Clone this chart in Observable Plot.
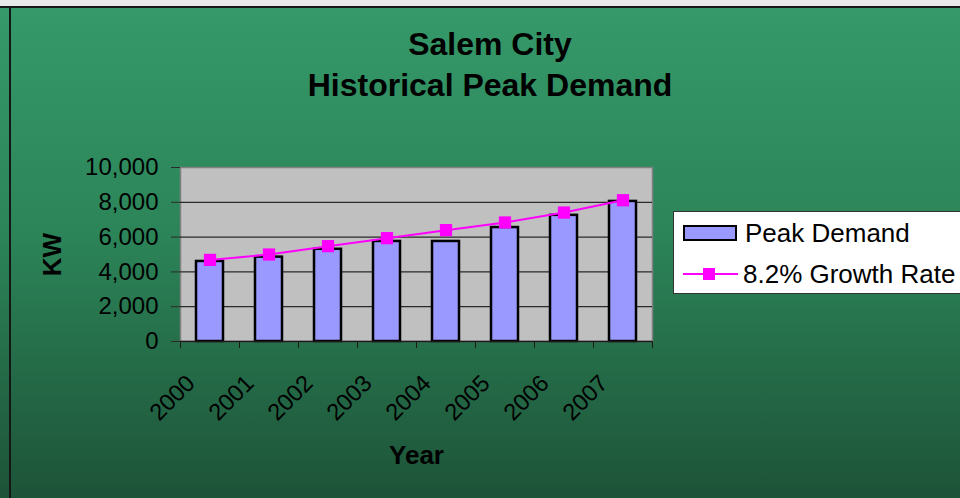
<!DOCTYPE html>
<html>
<head>
<meta charset="utf-8">
<script src="https://cdn.jsdelivr.net/npm/d3@7"></script>
<script src="https://cdn.jsdelivr.net/npm/@observablehq/plot@0.6"></script>
<style>
  html, body { margin: 0; padding: 0; width: 960px; height: 498px; overflow: hidden; background: #e8e8e8; }
  #bg { position: absolute; left: 0; top: 6px; width: 960px; height: 492px;
        background: linear-gradient(to bottom, #35996a 0%, #2c8559 45%, #1d5338 100%);
        border-top: 2px solid #161616; box-sizing: border-box; }
  #vline { position: absolute; left: 9px; top: 6px; width: 2px; height: 492px; background: #161616; }
  #title { position: absolute; left: 240px; width: 500px; top: 24px; text-align: center;
           font-family: "Liberation Sans", Arial, sans-serif; font-weight: bold; font-size: 32px; line-height: 41px; color: #000; }
  #chart { position: absolute; left: 0; top: 0; }
  #legend { position: absolute; left: 673px; top: 211px; width: 320px; height: 83px; background: #fff;
            border: 1px solid #333; box-sizing: border-box;
            font-family: "Liberation Sans", Arial, sans-serif; font-size: 26px; line-height: 30px; color: #000; }
  .item { position: absolute; left: 9px; display: flex; align-items: center; white-space: nowrap; height: 30px; }
  .sw { width: 50px; height: 12px; background: #9999ff; border: 2px solid #000; margin-right: 8px; }
  .ln { position: relative; width: 55px; height: 14px; margin-right: 5px; }
  .ln::before { content: ""; position: absolute; left: 0; right: 0; top: 6px; height: 2px; background: #ff00ff; }
  .ln::after { content: ""; position: absolute; left: 20px; top: 1px; width: 12px; height: 12px; background: #ff00ff; }
</style>
</head>
<body>
<div id="bg"></div>
<div id="vline"></div>
<div id="chart"></div>
<div id="title"></div>
<div id="legend"></div>
<script>
const titleLines = ["Salem City", "Historical Peak Demand"];
const years = ["2000", "2001", "2002", "2003", "2004", "2005", "2006", "2007"];
const peakDemand = [4600, 4850, 5300, 5750, 5750, 6550, 7250, 8050];
const growthRate = [4690, 5000, 5480, 5940, 6400, 6840, 7410, 8120];
const yTicks = [0, 2000, 4000, 6000, 8000, 10000];
const gridTicks = [2000, 4000, 6000, 8000];
const seriesNames = ["Peak Demand", "8.2% Growth Rate"];
const yLabel = "KW";
const xLabel = "Year";

const rows = years.map((y, i) => ({year: y, peak: peakDemand[i], growth: growthRate[i]}));

document.getElementById("title").innerHTML = titleLines.map(t => `<div>${t}</div>`).join("");

const fmt = d3.format(",");

const chart = Plot.plot({
  width: 960,
  height: 498,
  marginLeft: 180,
  marginRight: 308,
  marginTop: 167,
  marginBottom: 157,
  style: {background: "transparent", fontFamily: "Liberation Sans, Arial, sans-serif", fontSize: "24px", color: "#000", overflow: "visible"},
  x: {domain: years, paddingInner: 0.54, paddingOuter: 0.27, axis: null},
  y: {domain: [0, 10000], axis: null},
  marks: [
    Plot.frame({fill: "#c0c0c0", stroke: "#808080", strokeWidth: 1.5}),
    Plot.gridY(gridTicks, {stroke: "#2a2a2a", strokeOpacity: 1, strokeWidth: 1.2}),
    Plot.barY(rows, {x: "year", y: "peak", fill: "#9999ff", stroke: "#000", strokeWidth: 2.5}),
    Plot.ruleY([0], {stroke: "#1a1a1a", strokeWidth: 1.5}),
    Plot.axisY(yTicks, {tickSize: 9, tickPadding: 13, tickFormat: fmt, fontSize: 24, stroke: "#2a2a2a", label: null}),
    Plot.axisX(years, {tickSize: 7, tickFormat: () => "", dx: -29.5, stroke: "#1a1a1a", label: null}),
    Plot.axisX(years.slice(-1), {tickSize: 7, tickFormat: () => "", dx: 29.5, stroke: "#1a1a1a", label: null}),
    Plot.axisX(years, {tickSize: 0, tickPadding: 38, tickRotate: -45, dx: -19, fontSize: 23.5, label: null}),
    Plot.line(rows, {x: "year", y: "growth", stroke: "#ff00ff", strokeWidth: 2}),
    Plot.dot(rows, {x: "year", y: "growth", symbol: "square", r: 6.9, fill: "#ff00ff", stroke: "none"}),
    Plot.text([yLabel], {frameAnchor: "left", dx: -128, rotate: -90, textAnchor: "middle", lineAnchor: "middle", fontWeight: "bold", fontSize: 26}),
    Plot.text([xLabel], {frameAnchor: "bottom", dy: 114, textAnchor: "middle", lineAnchor: "middle", fontWeight: "bold", fontSize: 26})
  ]
});
document.getElementById("chart").appendChild(chart);

document.getElementById("legend").innerHTML =
  `<div class="item" style="top:6px"><span class="sw"></span><span>${seriesNames[0]}</span></div>` +
  `<div class="item" style="top:47px"><span class="ln"></span><span>${seriesNames[1]}</span></div>`;
</script>
</body>
</html>
